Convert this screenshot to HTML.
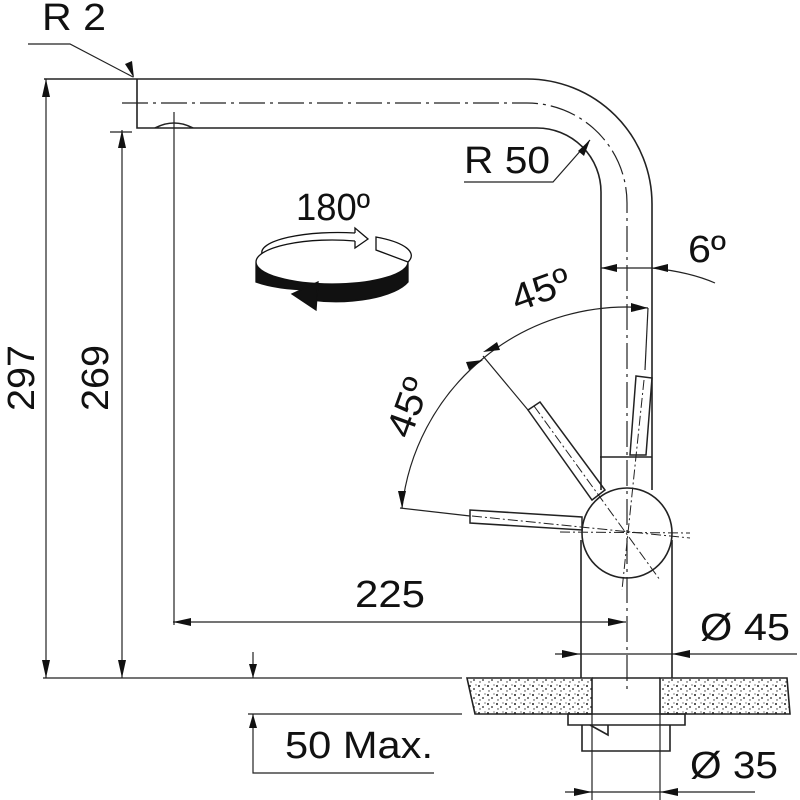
<!DOCTYPE html>
<html><head><style>body{margin:0;background:#fff}svg{display:block}text{font-family:"Liberation Sans",sans-serif;fill:#111}</style></head>
<body>
<svg width="800" height="800" viewBox="0 0 800 800" xmlns="http://www.w3.org/2000/svg">
<defs>
<pattern id="sp" width="9" height="9" patternUnits="userSpaceOnUse">
<rect width="9" height="9" fill="#fff"/>
<circle cx="2" cy="2" r="1" fill="#222"/><circle cx="6" cy="5" r="0.9" fill="#222"/><circle cx="3" cy="7" r="0.7" fill="#333"/><circle cx="8" cy="1" r="0.6" fill="#333"/>
</pattern>
</defs>
<g stroke="#222" stroke-width="1.6" fill="none">
<path d="M44 79 H527 A125 125 0 0 1 652 204 V457"/>
<path d="M137 79 V128 H155 M193 128 H537 A64 64 0 0 1 601 192 V457"/>
<path d="M155 128 Q174 118 193 128 Z"/>
<path d="M122 103 H527 A100 100 0 0 1 627 203 V690" stroke-dasharray="26 5 3 5" stroke-width="1.2"/>
<line x1="174" y1="112" x2="174" y2="625" stroke-width="1.2"/>
<line x1="600" y1="457" x2="652" y2="457"/>
<path d="M601 457 V490 M652 457 V490"/>
<circle cx="627" cy="533" r="45"/>
<path d="M581 540 V678 M672 540 V678"/>
<path d="M467 678 H592 V714 H475 Z" fill="url(#sp)"/>
<path d="M660 678 H787 L790 714 H660 Z" fill="url(#sp)"/>
<line x1="592" y1="678" x2="660" y2="678"/>
<path d="M568 714 H685 V725 H568 Z"/>
<path d="M582 725 V751 H670 V725"/>
<path d="M590 725 L608 735 V725"/>
<g stroke-width="1.5">
<path d="M636 376 L652 378 L646 455 L630 455 Z"/>
<path d="M528 410 L540 402 L605 490 L592 500 Z"/>
<path d="M470 510 L470 523 L582 530 L582 517 Z"/>
</g>
<g stroke-width="1" stroke-dasharray="10 3 2 3">
<line x1="644" y1="380" x2="622" y2="590"/>
<line x1="534" y1="406" x2="660" y2="580"/>
<line x1="472" y1="516" x2="690" y2="538"/>
<line x1="560" y1="532" x2="690" y2="533"/>
</g>
<path d="M402 508 A226 226 0 0 1 648 308" stroke-width="1.2"/>
<line x1="648" y1="308" x2="645" y2="370" stroke-width="1.2"/>
<line x1="483" y1="356" x2="528" y2="410" stroke-width="1.2"/>
<line x1="400" y1="508" x2="470" y2="516" stroke-width="1.2"/>
<line x1="601" y1="268" x2="652" y2="268" stroke-width="1.2"/>
<path d="M652 268 Q690 272 715 283" stroke-width="1.2"/>
<line x1="46" y1="79" x2="46" y2="678" stroke-width="1.2"/>
<line x1="122" y1="130" x2="122" y2="678" stroke-width="1.2"/>
<line x1="110" y1="132" x2="132" y2="132" stroke-width="1.2"/>
<line x1="43" y1="678" x2="462" y2="678" stroke-width="1.2"/>
<line x1="248" y1="714" x2="462" y2="714" stroke-width="1.2"/>
<line x1="253" y1="652" x2="253" y2="678" stroke-width="1.2"/>
<path d="M253 714 V773 H434" stroke-width="1.2"/>
<line x1="173" y1="622" x2="626" y2="622" stroke-width="1.2"/>
<line x1="555" y1="654" x2="797" y2="654" stroke-width="1.2"/>
<line x1="565" y1="792" x2="755" y2="792" stroke-width="1.2"/>
<line x1="592" y1="714" x2="592" y2="800" stroke-width="1.2"/>
<line x1="660" y1="714" x2="660" y2="800" stroke-width="1.2"/>
<path d="M28 44 H70 L133 77" stroke-width="1.2"/>
<path d="M464 182 H553 L590 140" stroke-width="1.2"/>
</g>
<g fill="#111">
<path d="M46 79 l-4 18 h8 z"/><path d="M46 678 l-4 -18 h8 z"/>
<path d="M122 130 l-4 18 h8 z"/><path d="M122 678 l-4 -18 h8 z"/>
<path d="M253 678 l-4 -14 h8 z"/><path d="M253 714 l-4 14 h8 z"/>
<path d="M173 622 l18 -4 v8 z"/><path d="M626 622 l-18 -4 v8 z"/>
<path d="M580 654 l-18 -4 v8 z"/><path d="M672 654 l18 -4 v8 z"/>
<path d="M592 792 l-18 -4 v8 z"/><path d="M660 792 l18 -4 v8 z"/>
<path d="M601 268 l16 -4 v8 z"/><path d="M652 268 l16 -4 v8 z"/>
<path d="M648 308 l-17 -5 v9 z"/>
<path d="M483 352 l14 -10 l3 8 z"/><path d="M483 360 l-14 10 l-3 -8 z"/>
<path d="M402 508 l-4 -17 h8 z"/>
<path d="M134 78 l-9 -14 l7 -3 z"/>
<path d="M590 140 l-6 16 l-6 -5 z"/>
</g>
<g stroke="#111" stroke-width="1.3">
<path d="M256 262 A76 22 0 0 0 408 262 L408 282 A76 28 0 0 1 310 300 L310 290 A76 22 0 0 1 256 282 Z" fill="#111"/>
<path d="M318 282 L292 294 L316 310 Z" fill="#111"/>
<path d="M256 262 A76 22 0 0 1 355 241" fill="none"/>
<path d="M262 254 A76 20 0 0 1 355 233" fill="none"/>
<path d="M355 233 L355 228 L368 239 L355 248 L355 241" fill="#fff"/>
<path d="M376 237 A76 22 0 0 1 408 262 L376 250 Z" fill="#fff"/>
</g>
<text x="42" y="30" font-size="38" textLength="64" lengthAdjust="spacingAndGlyphs">R 2</text>
<text x="464" y="173" font-size="38" textLength="86" lengthAdjust="spacingAndGlyphs">R 50</text>
<text x="296" y="220" font-size="38" textLength="74" lengthAdjust="spacingAndGlyphs">180º</text>
<text x="688" y="262" font-size="38" textLength="38" lengthAdjust="spacingAndGlyphs">6º</text>
<text x="517" y="312" font-size="38" transform="rotate(-20 517 312)" textLength="60" lengthAdjust="spacingAndGlyphs">45º</text>
<text x="410" y="440" font-size="38" transform="rotate(-70 410 440)" textLength="60" lengthAdjust="spacingAndGlyphs">45º</text>
<text x="355" y="607" font-size="38" textLength="70" lengthAdjust="spacingAndGlyphs">225</text>
<text x="700" y="640" font-size="38" textLength="90" lengthAdjust="spacingAndGlyphs">Ø 45</text>
<text x="690" y="778" font-size="38" textLength="88" lengthAdjust="spacingAndGlyphs">Ø 35</text>
<text x="285" y="758" font-size="38" textLength="148" lengthAdjust="spacingAndGlyphs">50 Max.</text>
<text x="34" y="378" font-size="38" transform="rotate(-90 34 378)" text-anchor="middle" textLength="66" lengthAdjust="spacingAndGlyphs">297</text>
<text x="108" y="378" font-size="38" transform="rotate(-90 108 378)" text-anchor="middle" textLength="66" lengthAdjust="spacingAndGlyphs">269</text>
</svg>
</body></html>
